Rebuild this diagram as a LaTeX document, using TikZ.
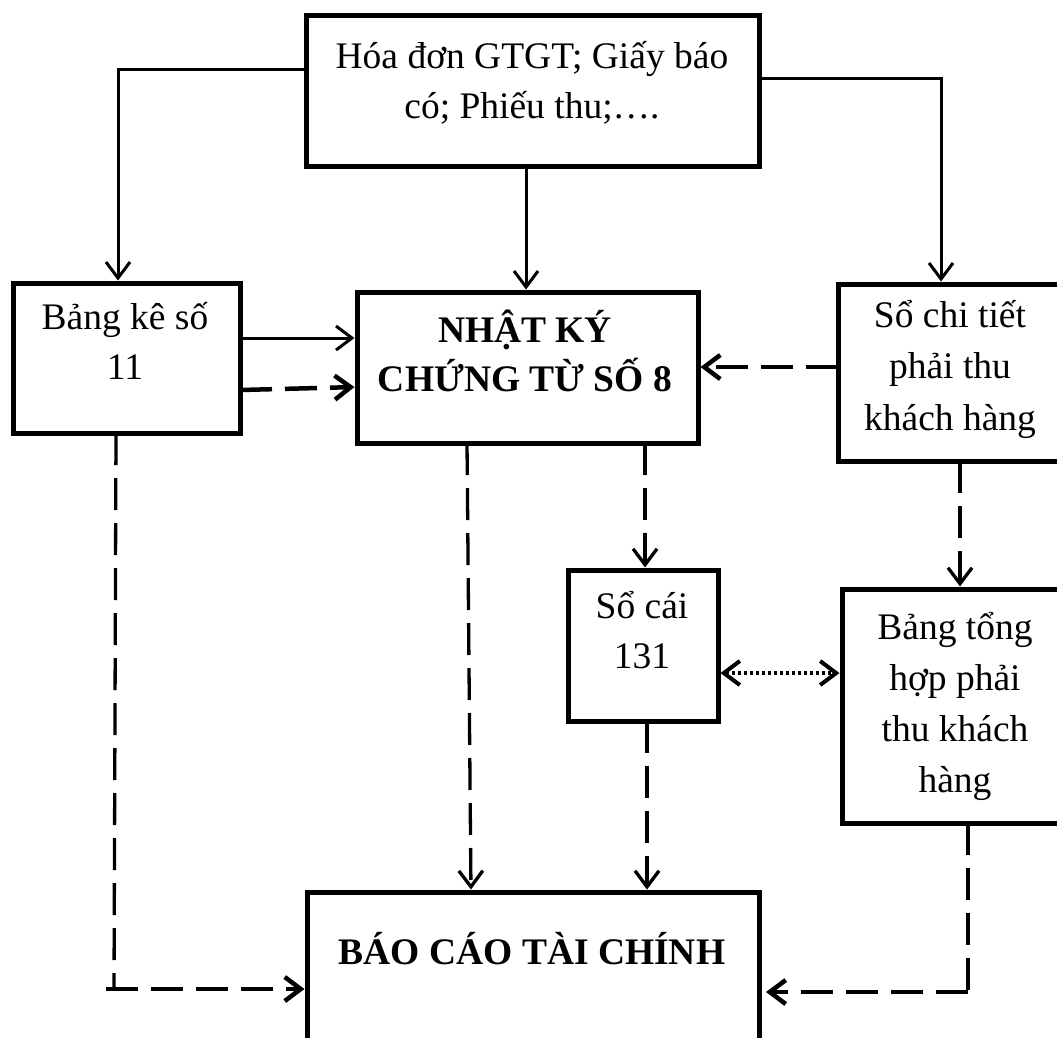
\documentclass[tikz,border=0pt]{standalone}
\usepackage{fontspec}
\setmainfont{Liberation Serif}
\usetikzlibrary{arrows.meta}
\begin{document}
\begin{tikzpicture}[x=1pt,y=-1pt,
  box/.style={draw,line width=5pt,rectangle,inner sep=0pt,outer sep=0pt},
  lbl/.style={inner sep=0pt,align=center,font=\fontsize{37.5}{49.5}\selectfont},
  tip/.style={-{Straight Barb[length=16pt,width=24pt]},shorten >=2.5pt},
  flow/.style={tip,line width=3pt},
  vdash/.style={line width=3.3pt,dash pattern=on 32pt off 13pt},
  hdash/.style={line width=4.5pt,dash pattern=on 32pt off 13pt},
  dots/.style={line width=4pt,dash pattern=on 3.5pt off 2.5pt},
]
\useasboundingbox (0,0) rectangle (1057,1037);
\clip (0,0) rectangle (1057,1037);

% boxes
\node[box,minimum width=453pt,minimum height=151pt] (top)   at (532.5,90.5) {};
\node[box,minimum width=227pt,minimum height=150pt] (bk11)  at (126.5,358) {};
\node[box,minimum width=341pt,minimum height=151pt] (nkct)  at (527.5,367.5) {};
\node[box,minimum width=242pt,minimum height=177pt] (sct)   at (959,372.5) {};
\node[box,minimum width=150pt,minimum height=151pt] (socai) at (643,645.5) {};
\node[box,minimum width=238pt,minimum height=234pt] (bth)   at (961,706) {};
\node[box,minimum width=452pt,minimum height=168pt] (bctc)  at (533,976) {};

% texts
\node[lbl] (topT)   at (532,83)  {Hóa đơn GTGT; Giấy báo\\có; Phiếu thu;….};
\node[lbl] (bk11T)  at (125,341) {Bảng kê số\\11};
\node[lbl,font=\fontsize{37.5}{49.5}\selectfont\bfseries] (nkctT) at (525,351) {NHẬT KÝ\\CHỨNG TỪ SỐ 8};
\node[lbl,font=\fontsize{37.5}{51.5}\selectfont] (sctT) at (950,369) {Sổ chi tiết\\phải thu\\khách hàng};
\node[lbl] (socaiT) at (642,630) {Sổ cái\\131};
\node[lbl,font=\fontsize{37.5}{51}\selectfont] (bthT) at (955,706) {Bảng tổng\\hợp phải\\thu khách\\hàng};
\node[lbl,anchor=base,font=\fontsize{37.5}{49.5}\selectfont\bfseries] (bctcT) at (532,964) {BÁO CÁO TÀI CHÍNH};

% solid flows from the source documents
\draw[flow] (top.west |- 0,69) -| (bk11.north -| 118,0);
\draw[flow] (top.south -| 526,0) -- (nkct.north -| 526,0);
\draw[flow] (top.east |- 0,78) -| (sct.north -| 941,0);
\draw[flow] (bk11.east |- 0,338) -- (nkct.west |- 0,338);

% dashed flows
\draw[hdash,tip] (bk11.east |- 0,390) -- (nkct.west |- 0,387);
\draw[hdash,tip] (sct.west |- 0,367) -- (nkct.east |- 0,367);
\draw[vdash,tip] (nkct.south -| 467,0) -- (bctc.north -| 471,0);
\draw[vdash,tip] (nkct.south -| 645,0) -- (socai.north -| 645,0);
\draw[vdash,tip] (socai.south -| 647,0) -- (bctc.north -| 647,0);
\draw[vdash,tip] (sct.south -| 960,0) -- (bth.north -| 960,0);

% dotted two-way link
\draw[dots,{Straight Barb[length=16pt,width=24pt]}-{Straight Barb[length=16pt,width=24pt]},shorten <=2.5pt,shorten >=2.5pt]
  (socai.east |- 0,673) -- (bth.west |- 0,673);

% lower corner routes into the report
\coordinate (lc) at (114,989);
\coordinate (rc) at (968,992);
\draw[vdash] (bk11.south -| 116,0) -- (lc);
\draw[hdash,tip] ([xshift=-8pt]lc) -- (bctc.west |- lc);
\draw[vdash] (bth.south -| rc) -- (rc);
\draw[hdash,tip,shorten >=7pt] (rc) -- (bctc.east |- rc);
\end{tikzpicture}
\end{document}
